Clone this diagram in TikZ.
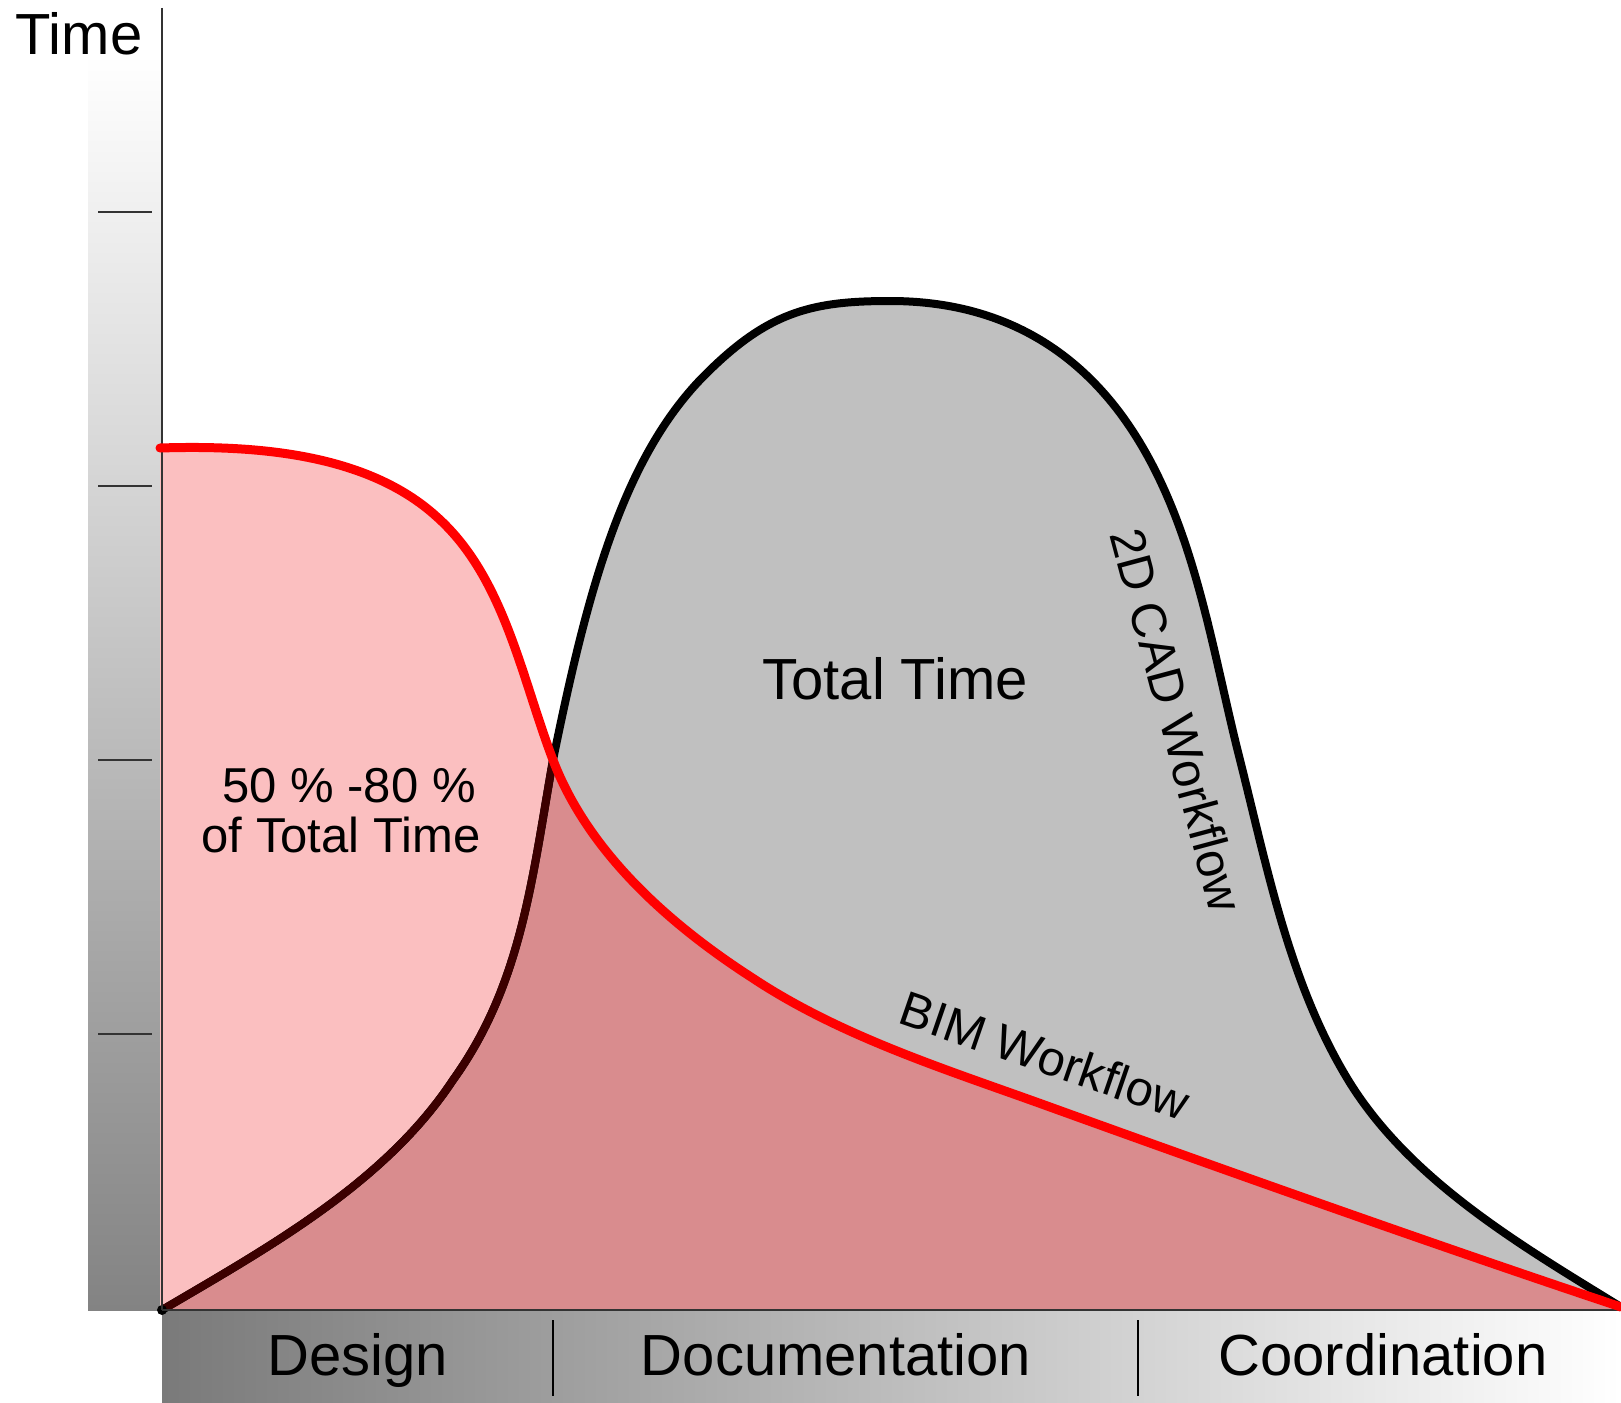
\documentclass[tikz,border=0pt]{standalone}
\usepackage{fontspec}
\setmainfont{Liberation Sans}
\definecolor{graybody}{HTML}{C0C0C0}
\definecolor{pinklight}{HTML}{FBBFC0}
\definecolor{pinkdark}{HTML}{D98C8E}
\definecolor{brownline}{HTML}{3C0000}
\definecolor{axisgray}{HTML}{333333}
\definecolor{barbottom}{HTML}{838383}
\definecolor{barleft}{HTML}{7A7A7A}
\newcommand\redcurve{(160,448) .. controls (255,445) and (367,453) .. (437,517) .. controls (504,577) and (521,676) .. (553,760) .. controls (588,852) and (669,924) .. (751,977) .. controls (841,1037) and (948,1070) .. (1050,1107) .. controls (1230,1172) and (1441,1247) .. (1621,1307)}
\newcommand\blackcurve{(162,1310) .. controls (269,1247) and (385,1183) .. (453,1080) .. controls (522,984) and (532,878) .. (553,760) .. controls (587,593) and (622,462) .. (700,380) .. controls (766,312) and (810,301) .. (890,301) .. controls (985,301) and (1063,337) .. (1120,413) .. controls (1193,511) and (1210,642) .. (1240,760) .. controls (1268,871) and (1290,986) .. (1350,1083) .. controls (1412,1182) and (1522,1246) .. (1621,1307)}
\begin{document}
\begin{tikzpicture}[x=0.5pt, y=-0.5pt,
  bigtext/.style={inner sep=0pt, font=\fontsize{29}{35}\selectfont},
  smalltext/.style={inner sep=0pt, font=\fontsize{24.5}{30}\selectfont},
  cadline/.style={line width=4pt, line cap=round, line join=round},
  bimline/.style={line width=4.5pt, red, line cap=round, line join=round},
  axisline/.style={line width=1pt, axisgray},
  tickline/.style={line width=1pt, axisgray},
  sepline/.style={line width=1pt, black}]
\useasboundingbox (0,0) rectangle (1621,1402);
\fill[white] (0,0) rectangle (1621,1402);
% gradient bars
\shade[top color=white, bottom color=barbottom] (88,55) rectangle (162,1310);
\shade[left color=barleft, right color=white] (162,1310) rectangle (1621,1402);
% fills
\fill[pinklight] \redcurve -- (1621,1310) -- (160,1310) -- cycle;
\fill[graybody] \blackcurve -- (1621,1310) -- cycle;
\begin{scope}
  \clip \redcurve -- (1621,1310) -- (160,1310) -- cycle;
  \fill[pinkdark] \blackcurve -- (1621,1310) -- cycle;
\end{scope}
% 2D CAD curve
\draw[cadline] \blackcurve;
\begin{scope}
  \clip \redcurve -- (1621,1310) -- (160,1310) -- cycle;
  \draw[cadline, brownline] \blackcurve;
\end{scope}
\fill[black] (162,1310) circle (5);
% axes and ticks
\draw[axisline] (162,8) -- (162,1310);
\draw[axisline] (162,1310) -- (1621,1310);
\foreach \ty in {212,486,760,1034} \draw[tickline] (98,\ty) -- (152,\ty);
% BIM curve
\draw[bimline] \redcurve;
% phase separators
\draw[sepline] (553,1320) -- (553,1396);
\draw[sepline] (1138,1320) -- (1138,1396);
% labels
\node[bigtext, anchor=base] (time) at (79,55) {Time};
\node[bigtext, anchor=base] (design) at (358,1375) {Design};
\node[bigtext, anchor=base] (doc) at (836,1375) {Documentation};
\node[bigtext, anchor=base] (coord) at (1383,1375) {Coordination};
\node[bigtext, anchor=base] (total) at (895,699) {Total Time};
\node[smalltext, anchor=base] (pcta) at (349,802) {50 \% -80 \%};
\node[smalltext, anchor=base] (pctb) at (341,852) {of Total Time};
\node[smalltext, anchor=base, rotate=-19] (bim) at (1039,1072) {BIM Workflow};
\node[smalltext, anchor=center, rotate=-75] (cad) at (1177,720) {2D CAD Workflow};
\end{tikzpicture}
\end{document}
